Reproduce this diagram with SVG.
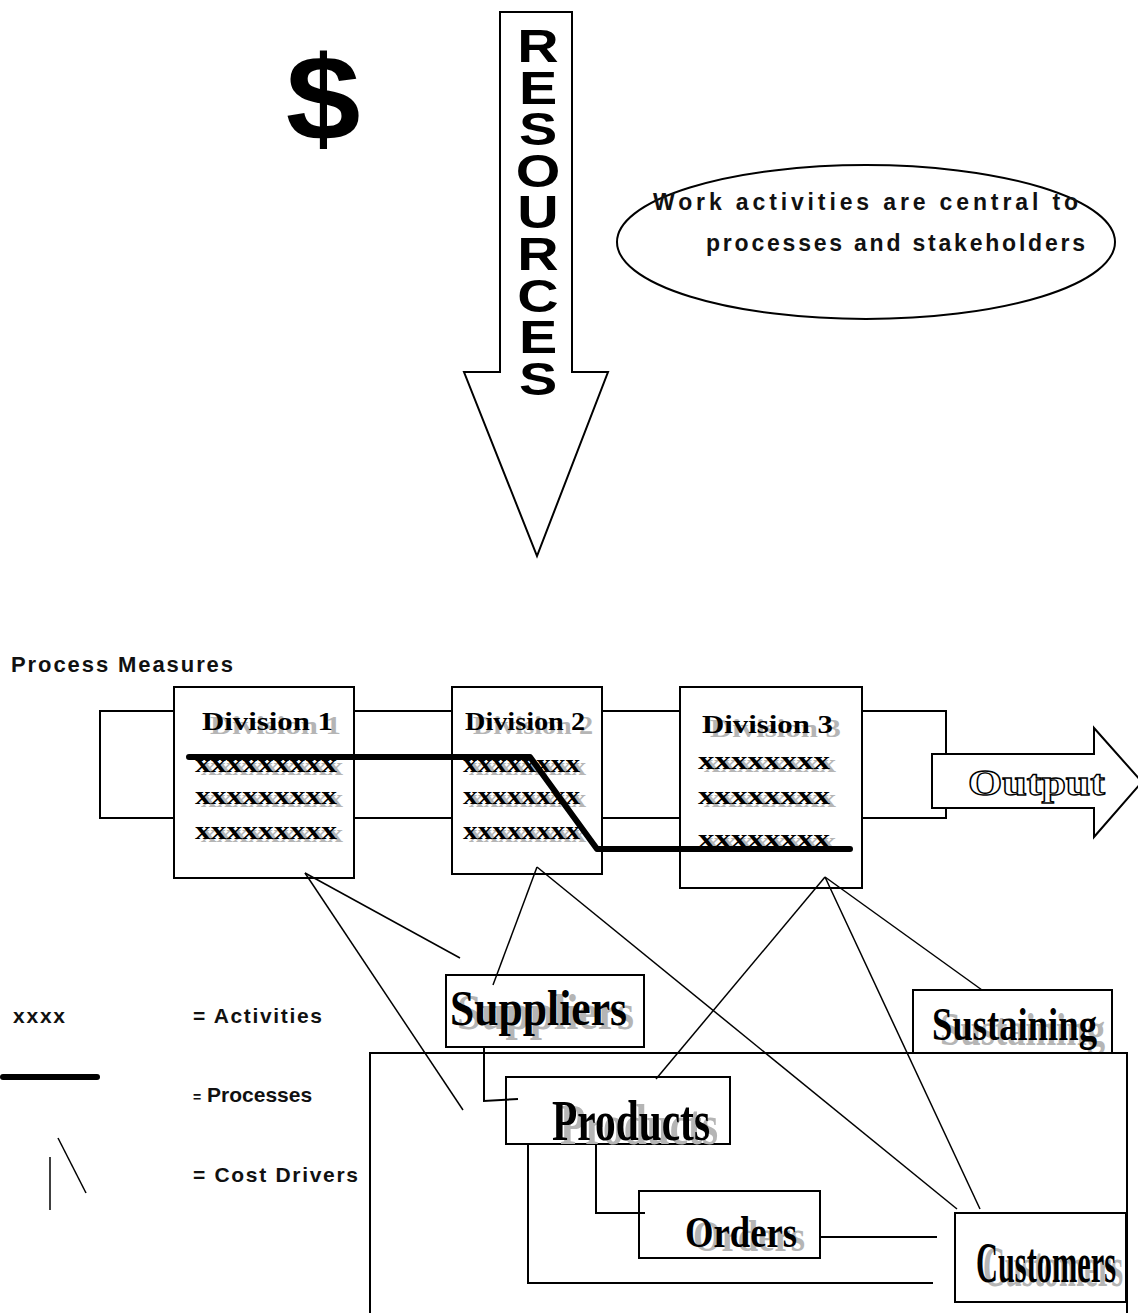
<svg xmlns="http://www.w3.org/2000/svg" width="1138" height="1313" viewBox="0 0 1138 1313">
  <style>
    .box { fill: #fff; stroke: #000; stroke-width: 2; }
    .open { fill: none; stroke: #000; stroke-width: 2; }
    .thin { fill: none; stroke: #000; stroke-width: 1.5; }
    .proc { fill: none; stroke: #000; stroke-width: 6; stroke-linecap: round; stroke-linejoin: round; }
    .sans { font-family: "Liberation Sans", Arial, sans-serif; font-weight: bold; fill: #000; }
    .label { font-family: "Liberation Sans", Arial, sans-serif; font-weight: bold; fill: #111; }
    .bl { font-family: "Liberation Serif", "Times New Roman", serif; font-weight: bold; fill: #000; }
    .sh { font-family: "Liberation Serif", "Times New Roman", serif; font-weight: bold; fill: #b5b5b5; }
    .hollow { font-family: "Liberation Serif", "Times New Roman", serif; font-weight: bold; fill: #fff; stroke: #000; stroke-width: 1.3; }
  </style>

  <rect width="1138" height="1313" fill="#fff"/>

  <!-- money symbol -->
  <g id="dollar">
    <text class="sans" font-size="120" transform="translate(323,140) scale(1.12,1)" text-anchor="middle">$</text>
  </g>

  <!-- resources arrow pointing down -->
  <g id="resources">
    <polygon class="box" points="500,12 572,12 572,372 608,372 537,556 464,372 500,372"/>
    <g class="sans" font-size="47" text-anchor="middle" transform="translate(538,0) scale(1.22,1)">
      <text x="0" y="62">R</text>
      <text x="0" y="103.6">E</text>
      <text x="0" y="145.2">S</text>
      <text x="0" y="186.8">O</text>
      <text x="0" y="228.4">U</text>
      <text x="0" y="270">R</text>
      <text x="0" y="311.6">C</text>
      <text x="0" y="353.2">E</text>
      <text x="0" y="394.8">S</text>
    </g>
  </g>

  <!-- note ellipse -->
  <g id="note">
    <ellipse class="box" cx="866" cy="242" rx="249" ry="77"/>
    <text class="label" font-size="23" x="653" y="210" textLength="425" lengthAdjust="spacing">Work activities are central to</text>
    <text class="label" font-size="23" x="706" y="251" textLength="379" lengthAdjust="spacing">processes and stakeholders</text>
  </g>

  <g id="process-measures">
    <text class="label" font-size="22" x="11" y="672" textLength="222" lengthAdjust="spacing">Process Measures</text>
  </g>

  <!-- band behind the divisions -->
  <g id="process-band">
    <rect class="box" x="100" y="711" width="846" height="107"/>
  </g>

  <g id="division-1">
    <rect class="box" x="174" y="687" width="180" height="191"/>
    <text class="sh" font-size="26" x="210" y="734" textLength="131" lengthAdjust="spacingAndGlyphs">Division 1</text>
    <text class="bl" font-size="26" x="202" y="730" textLength="131" lengthAdjust="spacingAndGlyphs">Division 1</text>
    <g font-size="26">
      <text class="sh" x="201" y="775" textLength="142" lengthAdjust="spacingAndGlyphs">xxxxxxxxx</text>
      <text class="bl" x="195" y="772" textLength="142" lengthAdjust="spacingAndGlyphs">xxxxxxxxx</text>
      <text class="sh" x="201" y="807" textLength="142" lengthAdjust="spacingAndGlyphs">xxxxxxxxx</text>
      <text class="bl" x="195" y="804" textLength="142" lengthAdjust="spacingAndGlyphs">xxxxxxxxx</text>
      <text class="sh" x="201" y="842" textLength="142" lengthAdjust="spacingAndGlyphs">xxxxxxxxx</text>
      <text class="bl" x="195" y="839" textLength="142" lengthAdjust="spacingAndGlyphs">xxxxxxxxx</text>
    </g>
  </g>

  <g id="division-2">
    <rect class="box" x="452" y="687" width="150" height="187"/>
    <text class="sh" font-size="26" x="473" y="734" textLength="120" lengthAdjust="spacingAndGlyphs">Division 2</text>
    <text class="bl" font-size="26" x="465" y="730" textLength="120" lengthAdjust="spacingAndGlyphs">Division 2</text>
    <g font-size="26">
      <text class="sh" x="469" y="775" textLength="117" lengthAdjust="spacingAndGlyphs">xxxxxxxx</text>
      <text class="bl" x="463" y="772" textLength="117" lengthAdjust="spacingAndGlyphs">xxxxxxxx</text>
      <text class="sh" x="469" y="807" textLength="117" lengthAdjust="spacingAndGlyphs">xxxxxxxx</text>
      <text class="bl" x="463" y="804" textLength="117" lengthAdjust="spacingAndGlyphs">xxxxxxxx</text>
      <text class="sh" x="469" y="842" textLength="117" lengthAdjust="spacingAndGlyphs">xxxxxxxx</text>
      <text class="bl" x="463" y="839" textLength="117" lengthAdjust="spacingAndGlyphs">xxxxxxxx</text>
    </g>
  </g>

  <g id="division-3">
    <rect class="box" x="680" y="687" width="182" height="201"/>
    <text class="sh" font-size="26" x="710" y="737" textLength="131" lengthAdjust="spacingAndGlyphs">Division 3</text>
    <text class="bl" font-size="26" x="702" y="733" textLength="131" lengthAdjust="spacingAndGlyphs">Division 3</text>
    <g font-size="26">
      <text class="sh" x="704" y="772" textLength="132" lengthAdjust="spacingAndGlyphs">xxxxxxxx</text>
      <text class="bl" x="698" y="769" textLength="132" lengthAdjust="spacingAndGlyphs">xxxxxxxx</text>
      <text class="sh" x="704" y="807" textLength="132" lengthAdjust="spacingAndGlyphs">xxxxxxxx</text>
      <text class="bl" x="698" y="804" textLength="132" lengthAdjust="spacingAndGlyphs">xxxxxxxx</text>
      <text class="sh" x="704" y="850" textLength="132" lengthAdjust="spacingAndGlyphs">xxxxxxxx</text>
      <text class="bl" x="698" y="847" textLength="132" lengthAdjust="spacingAndGlyphs">xxxxxxxx</text>
    </g>
  </g>

  <!-- output arrow -->
  <g id="output">
    <polygon class="box" points="932,754 1094,754 1094,728 1142,782 1094,837 1094,808 932,808"/>
    <text class="hollow" font-size="36" x="968" y="795" textLength="137" lengthAdjust="spacingAndGlyphs">Output</text>
  </g>

  <g id="suppliers">
    <rect class="box" x="446" y="975" width="198" height="72"/>
    <text class="sh" font-size="50" x="457" y="1029" textLength="177" lengthAdjust="spacingAndGlyphs">Suppliers</text>
    <text class="bl" font-size="50" x="450" y="1025" textLength="177" lengthAdjust="spacingAndGlyphs">Suppliers</text>
  </g>

  <g id="sustaining">
    <rect class="box" x="913" y="990" width="199" height="70"/>
    <text class="sh" font-size="46" x="940" y="1045" textLength="165" lengthAdjust="spacingAndGlyphs">Sustaining</text>
    <text class="bl" font-size="46" x="932" y="1040" textLength="165" lengthAdjust="spacingAndGlyphs">Sustaining</text>
  </g>

  <!-- enclosing frame, open at the bottom edge -->
  <g id="stakeholders">
    <path d="M370,1313 V1053 H1127 V1313" fill="#fff" stroke="#000" stroke-width="2"/>
  </g>

  <g id="products">
    <rect class="box" x="506" y="1077" width="224" height="67"/>
    <text class="sh" font-size="56" x="560" y="1144" textLength="158" lengthAdjust="spacingAndGlyphs">Products</text>
    <text class="bl" font-size="56" x="552" y="1140" textLength="158" lengthAdjust="spacingAndGlyphs">Products</text>
  </g>

  <g id="orders">
    <rect class="box" x="639" y="1191" width="181" height="67"/>
    <text class="sh" font-size="44" x="693" y="1251" textLength="112" lengthAdjust="spacingAndGlyphs">Orders</text>
    <text class="bl" font-size="44" x="685" y="1247" textLength="112" lengthAdjust="spacingAndGlyphs">Orders</text>
  </g>

  <g id="customers">
    <rect class="box" x="955" y="1213" width="171" height="89"/>
    <text class="sh" font-size="58" x="983" y="1286" textLength="140" lengthAdjust="spacingAndGlyphs">Customers</text>
    <text class="bl" font-size="58" x="976" y="1282" textLength="140" lengthAdjust="spacingAndGlyphs">Customers</text>
  </g>

  <g id="connectors">
    <!-- process path through the divisions -->
    <path class="proc" d="M189,757 H530 L597,849 H850"/>
    <!-- cost drivers from division 1 -->
    <line class="thin" x1="305" y1="873" x2="460" y2="958"/>
    <line class="thin" x1="305" y1="873" x2="463" y2="1110"/>
    <!-- cost drivers from division 2 -->
    <line class="thin" x1="537" y1="867" x2="493" y2="985"/>
    <line class="thin" x1="537" y1="867" x2="957" y2="1209"/>
    <!-- cost drivers from division 3 -->
    <line class="thin" x1="825" y1="877" x2="656" y2="1079"/>
    <line class="thin" x1="825" y1="877" x2="980" y2="1209"/>
    <line class="thin" x1="825" y1="877" x2="982" y2="990"/>
    <!-- stakeholder hierarchy -->
    <polyline class="open" points="484,1047 484,1101 518,1099"/>
    <polyline class="open" points="596,1144 596,1213 645,1213"/>
    <polyline class="open" points="528,1144 528,1283 933,1283"/>
    <line class="open" x1="820" y1="1237" x2="937" y2="1237"/>
  </g>

  <g id="legend">
    <text class="label" font-size="21" x="13" y="1023" textLength="52" lengthAdjust="spacing">xxxx</text>
    <text class="label" font-size="21" x="193" y="1023" textLength="129" lengthAdjust="spacing">= Activities</text>
    <path class="proc" d="M3,1077 H97"/>
    <text class="label" font-size="21" x="193" y="1102"><tspan font-size="14">=</tspan> <tspan>Processes</tspan></text>
    <line class="thin" x1="50" y1="1157" x2="50" y2="1210"/>
    <line class="thin" x1="58" y1="1138" x2="86" y2="1193"/>
    <text class="label" font-size="21" x="193" y="1182" textLength="165" lengthAdjust="spacing">= Cost Drivers</text>
  </g>
</svg>
